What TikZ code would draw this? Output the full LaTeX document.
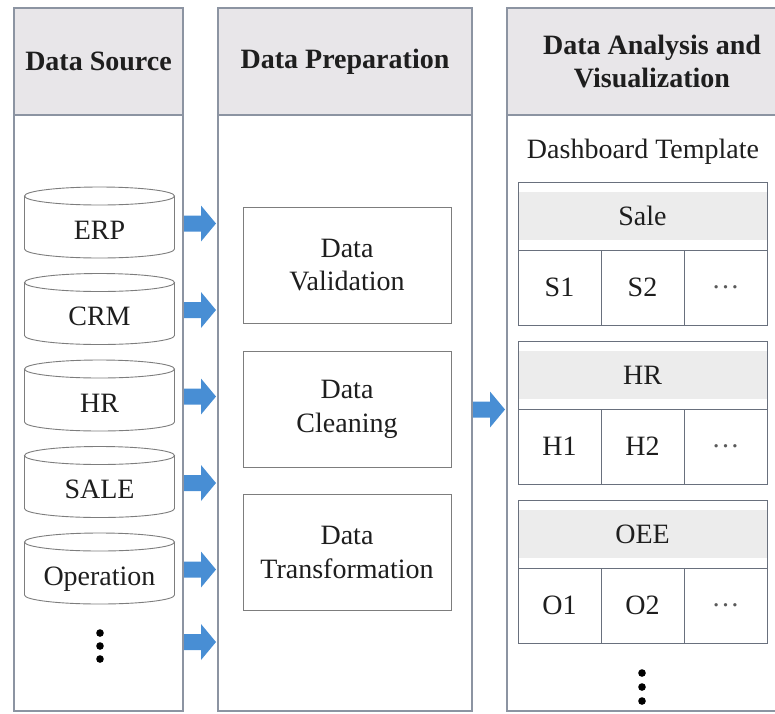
\documentclass[tikz,border=0pt]{standalone}
\usepackage{fontspec}
\setmainfont{Liberation Serif}
\usetikzlibrary{calc}

\definecolor{hdrgray}{RGB}{232,230,233}
\definecolor{bandgray}{RGB}{236,236,236}
\definecolor{colline}{RGB}{140,148,162}
\definecolor{boxline}{RGB}{125,125,125}
\definecolor{panelline}{RGB}{105,112,125}
\definecolor{arrowblue}{RGB}{72,142,212}
\definecolor{ink}{RGB}{30,30,30}
\definecolor{dotgray}{RGB}{90,90,90}

% database cylinder drawn around a text node (#1 = node name)
\newcommand\cylout[1]{%
  \draw[cylline] ([shift={(-75pt,33.5pt)}]#1.center)
     -- ([shift={(-75pt,-19.5pt)}]#1.center)
     arc[start angle=180,end angle=360,x radius=75pt,y radius=9pt]
     -- ([shift={(75pt,33.5pt)}]#1.center);
  \draw[cylline] ([yshift=33.5pt]#1.center) ellipse[x radius=75pt,y radius=9pt];}

% block arrow from the frame #1 to the frame #2, level with #3 raised by #4
\newcommand\flowarrow[4]{%
  \fill[arrowblue] let \p1=(#1.east), \p2=(#2.west), \p3=(#3) in
    (\x1+1pt,\y3+#4+8pt) -- (\x2-17pt,\y3+#4+8pt) -- (\x2-17pt,\y3+#4+18pt)
    -- (\x2-2pt,\y3+#4) -- (\x2-17pt,\y3+#4-18pt) -- (\x2-17pt,\y3+#4-8pt)
    -- (\x1+1pt,\y3+#4-8pt) -- cycle;}

\begin{document}
\begin{tikzpicture}[x=1pt,y=-1pt,
  every node/.style={font=\fontsize{28}{33.6}\selectfont, text=ink, outer sep=0pt},
  colframe/.style={draw=colline, line width=1.2pt, fill=white, anchor=north west,
                   minimum height=703pt},
  colhead/.style={draw=colline, line width=1.2pt, fill=hdrgray, anchor=north west,
                  minimum height=107pt, align=center,
                  font=\fontsize{28}{33}\selectfont\bfseries},
  cyltext/.style={inner sep=0pt, text height=19pt, text depth=0pt},
  cylline/.style={draw=boxline, line width=0.9pt},
  stepbox/.style={draw=boxline, line width=1pt, minimum width=208pt,
                  minimum height=116pt, align=center},
  panelhdr/.style={draw=panelline, line width=1pt, minimum width=249pt,
                   minimum height=68pt, anchor=north west,
                   path picture={\fill[bandgray]
                     ([yshift=-10pt]path picture bounding box.north west) rectangle
                     ([yshift=10pt]path picture bounding box.south east);}},
  cell/.style={draw=panelline, line width=1pt, minimum width=83pt,
               minimum height=75pt, anchor=north west},
  bigdot/.style={fill=black}
]
\useasboundingbox (0,0) rectangle (775,713);
\clip (0,0) rectangle (775,713);

% ---- three column frames with their headings ----
\node[colframe, minimum width=169pt] (src) at (14,8) {};
\node[colhead,  minimum width=169pt] (srchd) at (14,8) {Data Source};
\node[colframe, minimum width=254pt] (prep) at (218,8) {};
\node[colhead,  minimum width=254pt] (prephd) at (218,8) {Data Preparation};
\node[colframe, minimum width=290pt] (ana) at (507,8) {};
\node[colhead,  minimum width=290pt] (anahd) at (507,8) {Data Analysis and\\Visualization};

% ---- data sources ----
\foreach \n/\t/\y in {erp/ERP/229.5, crm/CRM/316, hrdb/HR/402.5,
                      saledb/SALE/489, oper/Operation/575.5}{
  \node[cyltext] (\n) at (99.5,\y) {\t};
  \cylout{\n}
}
\coordinate (srcdots) at (100,646);
\foreach \dy in {-13,0,13} \fill[bigdot] (100,646+\dy) circle (3.8pt);

% ---- preparation steps ----
\node[stepbox] (valid) at (347,265)   {Data\\Validation};
\node[stepbox] (clean) at (347,409.5) {Data\\Cleaning};
\node[stepbox] (trans) at (347,552.5) {Data\\Transformation};

% ---- dashboard template ----
\node[text depth=0pt] (dash) at (643,149) {Dashboard Template};
\foreach \t/\l/\y in {Sale/S/182, HR/H/341, OEE/O/500}{
  \node[panelhdr] (hd-\l) at (518,\y) {\t};
  \node[cell] (\l1) at (hd-\l.south west) {\l1};
  \node[cell] (\l2) at (\l1.north east) {\l2};
  \node[cell, text=dotgray] (\l3) at (\l2.north east) {…};
}
\coordinate (anadots) at (642,687);
\foreach \dy in {-14,0,14} \fill[bigdot] (642,687+\dy) circle (3.8pt);

% ---- flow arrows between the columns ----
\flowarrow{src}{prep}{erp}{6pt}
\flowarrow{src}{prep}{crm}{6pt}
\flowarrow{src}{prep}{hrdb}{6pt}
\flowarrow{src}{prep}{saledb}{6pt}
\flowarrow{src}{prep}{oper}{6pt}
\flowarrow{src}{prep}{srcdots}{4pt}
\flowarrow{prep}{ana}{clean}{0pt}
\end{tikzpicture}
\end{document}
